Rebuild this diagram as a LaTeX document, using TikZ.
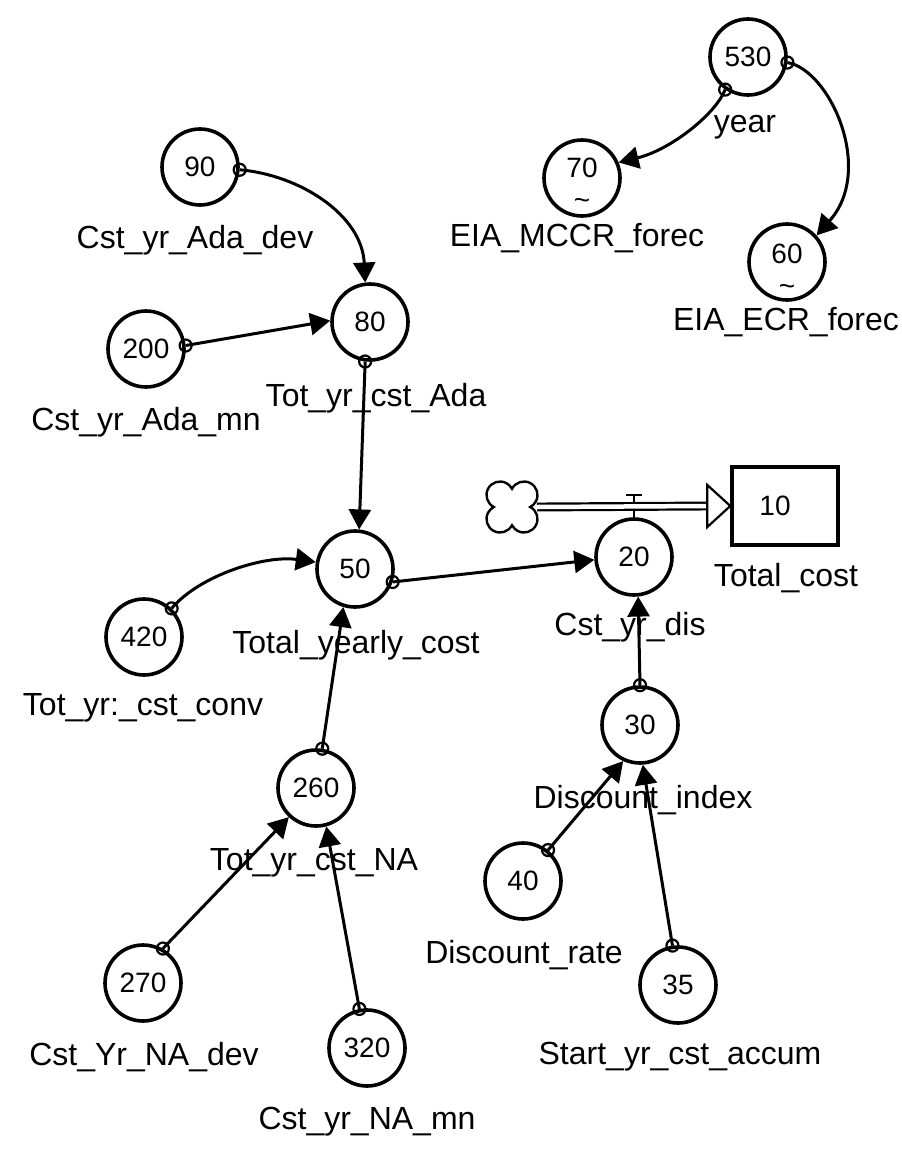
\documentclass[tikz,border=0pt]{standalone}
\usepackage{fontspec}
\setmainfont{Liberation Sans}
\usetikzlibrary{arrows.meta}
\begin{document}
\begin{tikzpicture}[x=1pt,y=-1pt,
  aux/.style={circle, draw, line width=3.6pt, minimum size=76pt, inner sep=0pt, font=\fontsize{28}{32}\selectfont},
  num/.style={inner sep=0pt, font=\fontsize{28}{32}\selectfont},
  stockbox/.style={draw, line width=3.4pt, minimum width=106pt, minimum height=78pt, inner sep=0pt},
  lbl/.style={font=\fontsize{32}{38}\selectfont, inner sep=0pt},
  conn/.style={line width=3pt, -{Triangle[length=20pt,width=22pt]}},
  tap/.style={line width=2.2pt},
  pipe/.style={double, double distance=4.5pt, line width=2.2pt},
]
\useasboundingbox (0,0) rectangle (902,1159);

% nodes
\node[aux] (n530) at (748,57) {530};
\node[aux] (n70)  at (582,178) {};
\node[num] at ([yshift=10pt]n70.center) {70};
\node[num] at ([yshift=-26pt]n70.center) {\textasciitilde};
\node[aux] (n60)  at (787,262) {};
\node[num] at ([yshift=8pt]n60.center) {60};
\node[num] at ([yshift=-28pt]n60.center) {\textasciitilde};
\node[aux] (n90)  at (200,167) {90};
\node[aux] (n200) at (146,349) {200};
\node[aux] (n80)  at (370,322) {80};
\node[aux] (n50)  at (355,569) {50};
\node[aux] (n20)  at (634,557) {20};
\node[stockbox] (n10) at (785,506) {};
\node[num] at ([xshift=-10pt]n10.center) {10};
\node[aux] (n420) at (144,637) {420};
\node[aux] (n260) at (316,788) {260};
\node[aux] (n30)  at (640,725) {30};
\node[aux] (n40)  at (523,881) {40};
\node[aux] (n35)  at (678,985) {35};
\node[aux] (n270) at (143,983) {270};
\node[aux] (n320) at (367,1048) {320};

% labels
\node[lbl] (l530) at (745,127) {year};
\node[lbl] (l70)  at (577,238) {EIA\_MCCR\_forec};
\node[lbl] (l60)  at (786,322) {EIA\_ECR\_forec};
\node[lbl] (l90)  at (195,240) {Cst\_yr\_Ada\_dev};
\node[lbl] (l200) at (146,422) {Cst\_yr\_Ada\_mn};
\node[lbl] (l80)  at (376,398) {Tot\_yr\_cst\_Ada};
\node[lbl] (l50)  at (356,645) {Total\_yearly\_cost};
\node[lbl] (l20)  at (630,627) {Cst\_yr\_dis};
\node[lbl] (l10)  at (786,578) {Total\_cost};
\node[lbl] (l420) at (143,708) {Tot\_yr:\_cst\_conv};
\node[lbl] (l260) at (314,863) {Tot\_yr\_cst\_NA};
\node[lbl] (l30)  at (643,800) {Discount\_index};
\node[lbl] (l40)  at (524,955) {Discount\_rate};
\node[lbl] (l35)  at (680,1057) {Start\_yr\_cst\_accum};
\node[lbl] (l270) at (144,1057) {Cst\_Yr\_NA\_dev};
\node[lbl] (l320) at (367,1122) {Cst\_yr\_NA\_mn};

% cloud
\begin{scope}[shift={(512,507)}, x=1pt, y=1pt]
  \draw[line width=2.4pt] (0,18.18)
    arc[start angle=152.7, end angle=-62.7, radius=13.5]
    arc[start angle=62.7, end angle=-152.7, radius=13.5]
    arc[start angle=-27.3, end angle=-242.7, radius=13.5]
    arc[start angle=-117.3, end angle=-332.7, radius=13.5] -- cycle;
\end{scope}
\coordinate (cloudE) at (537,507);
\coordinate (valve) at (634,507);

% flow pipe
\draw[pipe] (cloudE) -- ([xshift=-22pt]n10.west);
\draw[line width=2.2pt, fill=white, line join=miter] (n10.west) -- ([xshift=-23pt,yshift=21pt]n10.west) -- ([xshift=-23pt,yshift=-21pt]n10.west) -- cycle;
% valve
\draw[line width=2.2pt] ([xshift=-8pt,yshift=12pt]valve) -- ([xshift=8pt,yshift=12pt]valve);
\draw[line width=2.2pt] ([yshift=12pt]valve) -- ([yshift=4pt]valve);
\draw[line width=2.2pt] ([yshift=-4pt]valve) -- (n20.north);

% connectors
\draw[conn] (n530.235) .. controls (715,115) and (670,150) .. (n70.23);
\draw[tap] (n530.235) circle[radius=6pt];
\draw[conn] (n530.-8) .. controls (830,70) and (875,170) .. (n60.42);
\draw[tap] (n530.-8) circle[radius=6pt];

\draw[conn] (n90.-4) .. controls (300,175) and (362,215) .. (n80.97);
\draw[tap] (n90.-4) circle[radius=6pt];
\draw[conn] (n200.5) -- (n80.178);
\draw[tap] (n200.5) circle[radius=6pt];
\draw[conn] (n80.-97) -- (n50.84);
\draw[tap] (n80.-97) circle[radius=6pt];
\draw[conn] (n420.46) .. controls (200,575) and (265,555) .. (n50.170);
\draw[tap] (n420.46) circle[radius=6pt];
\draw[conn] (n50.-19) -- (n20.-176);
\draw[tap] (n50.-19) circle[radius=6pt];
\draw[conn] (n260.81) -- (n50.-107);
\draw[tap] (n260.81) circle[radius=6pt];
\draw[conn] (n270.60) -- (n260.-133);
\draw[tap] (n270.60) circle[radius=6pt];
\draw[conn] (n320.101) -- (n260.-75);
\draw[tap] (n320.101) circle[radius=6pt];
\draw[conn] (n30.90) -- (n20.-84);
\draw[tap] (n30.90) circle[radius=6pt];
\draw[conn] (n40.51) -- (n30.-115);
\draw[tap] (n40.51) circle[radius=6pt];
\draw[conn] (n35.98) -- (n30.-86);
\draw[tap] (n35.98) circle[radius=6pt];
\end{tikzpicture}
\end{document}
